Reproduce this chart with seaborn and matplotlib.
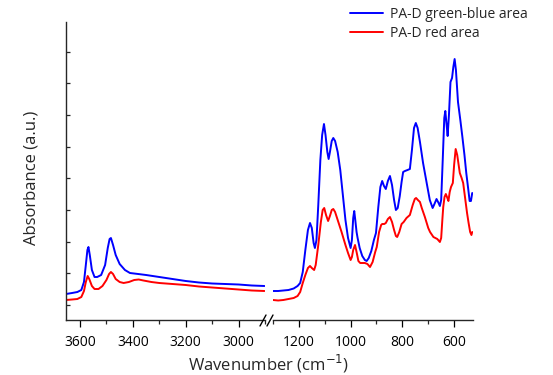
import numpy as np
import pandas as pd
import matplotlib
matplotlib.use("Agg")
import matplotlib.pyplot as plt
from matplotlib.lines import Line2D
from matplotlib.ticker import MultipleLocator
import seaborn as sns

# ---------------- data (y = relative absorbance) -------------
blue_hi_wn = [3653, 3630, 3610, 3595, 3585, 3578, 3572, 3568, 3563, 3555, 3545, 3535, 3520,
              3505, 3495, 3488, 3483, 3475, 3465, 3450, 3430, 3411, 3380, 3350, 3300, 3250,
              3200, 3150, 3100, 3050, 3000, 2950, 2902]
blue_hi_py = [294, 293, 292, 290, 282, 265, 250, 247, 255, 270, 277, 277, 275,
              265, 248, 239, 238, 245, 255, 264, 270, 273, 274, 275, 277, 279,
              281, 282.5, 283.5, 284, 284.5, 285.5, 286]

red_hi_wn = [3653, 3630, 3610, 3595, 3585, 3578, 3571, 3565, 3555, 3545, 3530, 3515, 3500,
             3490, 3483, 3475, 3465, 3450, 3435, 3415, 3395, 3378, 3360, 3330, 3300, 3250,
             3200, 3150, 3100, 3050, 3000, 2950, 2902]
red_hi_py = [300, 299.5, 299, 297, 291, 282, 276, 279, 286, 289, 289, 286, 280,
             274, 272, 274, 279, 282, 283, 282, 280, 279.5, 280.5, 282, 283, 284,
             285, 286.5, 287.5, 288.5, 289.5, 290.5, 291]

blue_lo_wn = [1300, 1280, 1260, 1240, 1220, 1205, 1195, 1185, 1175, 1165, 1157, 1150, 1143,
              1138, 1132, 1125, 1117, 1110, 1103, 1097, 1090, 1085, 1080, 1073, 1067, 1060,
              1050, 1040, 1030, 1020, 1010, 1000, 995, 990, 986, 982, 977, 973, 965, 955,
              945, 938, 930, 920, 910, 902, 893, 885, 878, 871, 864, 856, 848, 840, 832,
              825, 818, 810, 803, 797, 790, 780, 771, 763, 755, 748, 741, 732, 720, 706,
              694, 683, 676, 668, 660, 655, 650, 644, 638, 634, 629, 625, 620, 614, 608,
              603, 598, 593, 585, 576, 568, 560, 553, 545, 540, 535, 530]
blue_lo_py = [291, 291, 290.5, 290, 288.5, 286, 283, 272, 250, 230, 223, 228, 243,
              248, 240, 205, 160, 135, 124, 135, 152, 159, 152, 141, 138, 141,
              152, 170, 195, 220, 238, 248, 240, 218, 211, 220, 232, 238, 248, 256,
              260, 261, 258, 251, 240, 233, 207, 187, 181, 186, 189, 181, 176, 185, 200,
              210, 208, 196, 182, 172, 171, 170, 169, 150, 128, 123, 128, 142, 163, 183,
              200, 208, 204, 199, 203, 206, 200, 160, 118, 111, 125, 136, 115, 82, 78,
              67, 59, 70, 102, 120, 137, 155, 173, 190, 201, 201, 193]

red_lo_wn = [1300, 1280, 1260, 1240, 1220, 1205, 1195, 1185, 1175, 1165, 1157, 1150, 1141,
             1135, 1125, 1115, 1108, 1102, 1095, 1087, 1080, 1073, 1067, 1060, 1050, 1035,
             1020, 1010, 1000, 995, 990, 983, 977, 970, 963, 955, 945, 935, 925, 915, 905,
             899, 890, 882, 878, 870, 864, 856, 848, 840, 832, 825, 820, 812, 803, 795,
             784, 771, 760, 752, 747, 740, 732, 725, 713, 700, 693, 680, 665, 655, 650,
             645, 642, 637, 632, 626, 622, 617, 612, 605, 600, 594, 588, 578, 571, 565,
             558, 550, 544, 538, 533, 530]
red_lo_py = [300, 300.5, 300, 299, 298, 296, 292, 283, 275, 268, 266, 268, 270,
             265, 245, 222, 210, 208, 215, 221, 216, 210, 209, 212, 220, 232,
             245, 253, 260, 257, 250, 245, 252, 261, 263, 263, 263, 264, 267, 262, 252,
             247, 232, 225, 224, 224, 223, 219, 217, 222, 230, 236, 237, 232, 224, 222,
             218, 215, 205, 199, 198, 200, 202, 208, 217, 228, 232, 237, 239, 242, 238,
             218, 207, 197, 194, 198, 201, 192, 187, 183, 165, 149, 155, 173, 178, 183,
             197, 213, 223, 232, 235, 232]

labels = ["PA-D green-blue area", "PA-D red area"]
colors = ["#0000ff", "#ff0000"]

hi_ticks = [3600, 3400, 3200, 3000]
lo_ticks = [1200, 1000, 800, 600]


def to_abs(py):
    # picture rows -> absorbance units (bottom of axes = 0)
    return [(320 - v) / 100.0 for v in py]


# ---------------- figure ----------------
W, H = 553, 375
fig = plt.figure(figsize=(W / 100, H / 100), dpi=100)
sns.set_style("ticks")
plt.rcParams["font.family"] = ["Open Sans", "DejaVu Sans"]


def px_rect(x0, x1, ytop, ybot):
    return [x0 / W, 1 - ybot / H, (x1 - x0) / W, (ybot - ytop) / H]


ax1 = fig.add_axes(px_rect(66, 265, 22, 320))
ax2 = fig.add_axes(px_rect(273, 473, 22, 320))

frames = [
    (ax1, blue_hi_wn, blue_hi_py, red_hi_wn, red_hi_py),
    (ax2, blue_lo_wn, blue_lo_py, red_lo_wn, red_lo_py),
]
for ax, bw, bp, rw, rp in frames:
    sns.lineplot(x=bw, y=to_abs(bp), ax=ax, color=colors[0], lw=1.4, sort=False,
                 estimator=None)
    sns.lineplot(x=rw, y=to_abs(rp), ax=ax, color=colors[1], lw=1.4, sort=False,
                 estimator=None)
    ax.set_ylim(0, 2.98)
    for s in ["top", "right"]:
        ax.spines[s].set_visible(False)
    ax.spines["bottom"].set_linewidth(1.0)
    ax.tick_params(axis="x", which="major", direction="out", length=5, width=0.9,
                   labelsize=10, pad=6, colors="black")
    ax.tick_params(axis="x", which="minor", direction="out", length=3, width=0.9)
    ax.xaxis.set_minor_locator(MultipleLocator(100))
    ax.set_xlabel("")
    ax.set_ylabel("")

ax1.set_xlim(3653, 2900)
ax1.set_xticks(hi_ticks)
ax1.set_xticklabels([str(t) for t in hi_ticks])
ax1.set_yticks(np.arange(0.15, 2.9, 0.3167))
ax1.set_yticklabels([])
ax1.tick_params(axis="y", direction="in", length=3, width=0.9)
ax1.spines["left"].set_linewidth(1.0)

ax2.set_xlim(1300, 527)
ax2.set_xticks(lo_ticks)
ax2.set_xticklabels([str(t) for t in lo_ticks])
ax2.spines["left"].set_visible(False)
ax2.set_yticks([])

# axis break marks
for x0 in (260, 267):
    fig.add_artist(Line2D([x0 / W, (x0 + 6) / W], [1 - 326 / H, 1 - 315 / H],
                          transform=fig.transFigure, color="black", lw=1.0))

# labels
fig.text(268 / W, 1 - 364 / H, "Wavenumber (cm$^{-1}$)", ha="center", va="center",
         fontsize=12)
fig.text(31 / W, 1 - 178 / H, "Absorbance (a.u.)", rotation=90, ha="center",
         va="center", fontsize=12)

handles = [Line2D([], [], color=c, lw=1.4) for c in colors]
fig.legend(handles, labels, loc="upper left", bbox_to_anchor=(347 / W, 1 - 4 / H),
           frameon=False, fontsize=10, handlelength=2.4, handletextpad=0.5,
           labelspacing=0.3, borderaxespad=0, borderpad=0.2)

fig.savefig("out.png", dpi=100)
